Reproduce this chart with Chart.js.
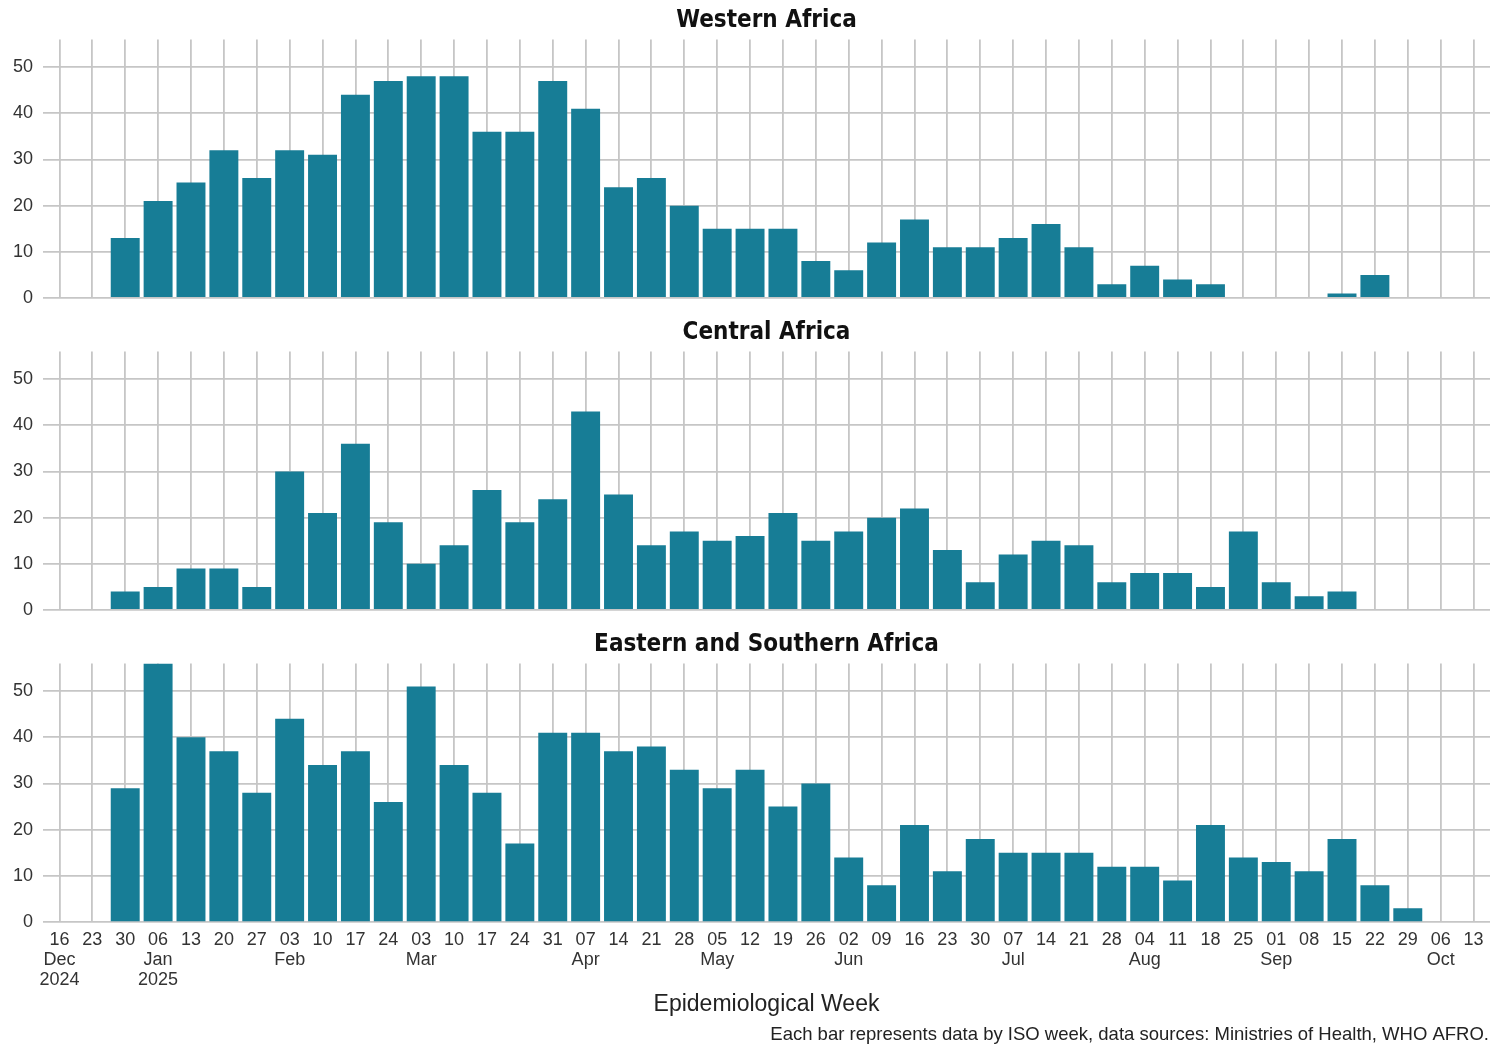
<!DOCTYPE html>
<html>
<head>
<meta charset="utf-8">
<script src="https://cdn.jsdelivr.net/npm/chart.js@4.4.1/dist/chart.umd.min.js"></script>
<style>
  body { margin: 0; background: #fff; }
  .panel { position: absolute; left: 0; width: 1500px; }
</style>
</head>
<body>
<div class="panel" style="top:0;height:312px"><canvas id="westChart"></canvas></div>
<div class="panel" style="top:312px;height:312px"><canvas id="centralChart"></canvas></div>
<div class="panel" style="top:624px;height:422px"><canvas id="eastChart"></canvas></div>
<script>
// ISO week start dates (Mondays), month/year shown under first week of month
const weekLabels = [
    ['16', 'Dec', '2024'], '23', '30', ['06', 'Jan', '2025'], '13', '20', '27',
    ['03', 'Feb'], '10', '17', '24', ['03', 'Mar'], '10', '17', '24', '31',
    ['07', 'Apr'], '14', '21', '28', ['05', 'May'], '12', '19', '26',
    ['02', 'Jun'], '09', '16', '23', '30', ['07', 'Jul'], '14', '21', '28',
    ['04', 'Aug'], '11', '18', '25', ['01', 'Sep'], '08', '15', '22', '29',
    ['06', 'Oct'], '13'
];

const westernAfrica = [null, null, 13, 21, 25, 32, 26, 32, 31, 44, 47, 48, 48, 36, 36, 47, 41, 24, 26, 20, 15, 15, 15, 8, 6, 12, 17, 11, 11, 13, 16, 11, 3, 7, 4, 3, null, null, null, 1, 5, null, null, null];
const centralAfrica = [null, null, 4, 5, 9, 9, 5, 30, 21, 36, 19, 10, 14, 26, 19, 24, 43, 25, 14, 17, 15, 16, 21, 15, 17, 20, 22, 13, 6, 12, 15, 14, 6, 8, 8, 5, 17, 6, 3, 4, null, null, null, null];
const easternSouthernAfrica = [null, null, 29, 56, 40, 37, 28, 44, 34, 37, 26, 51, 34, 28, 17, 41, 41, 37, 38, 33, 29, 33, 25, 30, 14, 8, 21, 11, 18, 15, 15, 15, 12, 12, 9, 21, 14, 13, 11, 18, 8, 3, null, null];

const yTicks = [0, 10, 20, 30, 40, 50];

const barColor = '#177d96';
const gridColor = '#c6c6c6';
const textColor = '#333333';
const sans = '"Liberation Sans", Arial, sans-serif';

// draws the panel title centred over the plot area (+ source note on last panel)
const panelTitle = {
    id: 'panelTitle',
    afterDraw(chart, args, opts) {
        const c = chart.ctx;
        const area = chart.chartArea;
        c.save();
        c.font = 'bold 24px "Liberation Sans Narrow", "Arial Narrow", "DejaVu Sans Condensed", sans-serif';
        c.fillStyle = '#111';
        c.textAlign = 'center';
        c.textBaseline = 'middle';
        c.fillText(opts.text, (area.left + area.right) / 2, 21);
        if (opts.caption) {
            c.font = '18.5px ' + sans;
            c.fillStyle = '#222';
            c.textAlign = 'right';
            c.fillText(opts.caption, area.right - 1, chart.height - 11);
        }
        c.restore();
    }
};

function makePanel(id, title, values, showX) {
    const ctx = document.getElementById(id).getContext('2d');
    return new Chart(ctx, {
        type: 'bar',
        data: {
            labels: weekLabels,
            datasets: [{
                data: values,
                backgroundColor: barColor,
                barPercentage: 0.88,
                categoryPercentage: 1.0
            }]
        },
        plugins: [panelTitle],
        options: {
            responsive: true,
            maintainAspectRatio: false,
            animation: false,
            layout: {
                padding: { top: 39.4, right: 10, left: 0, bottom: showX ? 29.5 : 14 }
            },
            plugins: {
                legend: { display: false },
                tooltip: { enabled: false },
                panelTitle: {
                    text: title,
                    caption: showX ? 'Each bar represents data by ISO week, data sources: Ministries of Health, WHO AFRO.' : null
                }
            },
            scales: {
                x: {
                    offset: true,
                    grid: { offset: false, color: gridColor, lineWidth: 1.8, drawTicks: false },
                    border: { display: false },
                    ticks: {
                        display: showX,
                        autoSkip: false,
                        maxRotation: 0,
                        padding: 8,
                        color: textColor,
                        font: { family: sans, size: 18, lineHeight: 1.1 }
                    },
                    title: {
                        display: showX,
                        text: 'Epidemiological Week',
                        color: '#222',
                        padding: { top: -4, bottom: 0 },
                        font: { family: sans, size: 23, lineHeight: 1 }
                    }
                },
                y: {
                    min: 0,
                    max: 56,
                    afterFit(scale) { scale.width = 43; },
                    grid: {
                        color: gridColor,
                        lineWidth: 1.8,
                        drawTicks: true,
                        tickLength: 10,
                        tickColor: 'rgba(0,0,0,0)'
                    },
                    border: { display: false },
                    ticks: {
                        stepSize: 5,
                        includeBounds: false,
                        padding: 0,
                        color: textColor,
                        font: { family: sans, size: 18 },
                        callback: v => yTicks.includes(v) ? v : ''
                    }
                }
            }
        }
    });
}

makePanel('westChart', 'Western Africa', westernAfrica, false);
makePanel('centralChart', 'Central Africa', centralAfrica, false);
makePanel('eastChart', 'Eastern and Southern Africa', easternSouthernAfrica, true);
</script>
</body>
</html>
